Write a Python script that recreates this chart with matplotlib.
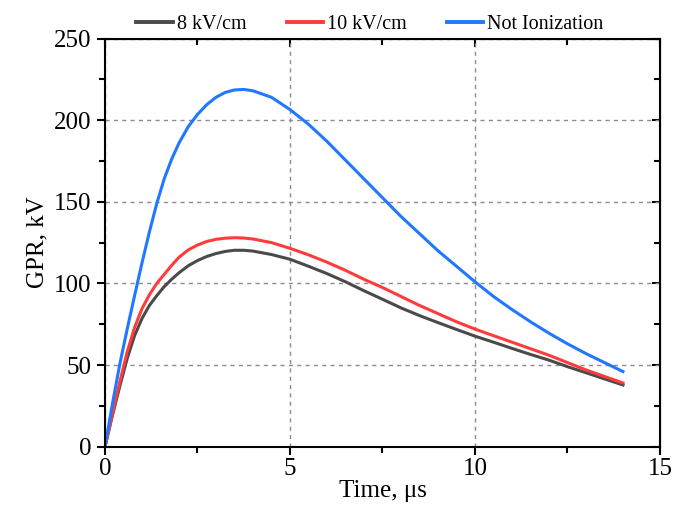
import matplotlib
matplotlib.use("Agg")
import matplotlib.pyplot as plt
from matplotlib.ticker import MultipleLocator

plt.rcParams['font.family'] = ['Liberation Serif', 'DejaVu Serif']

# time in microseconds, GPR in kV
time_us = [0, 0.2, 0.4, 0.6, 0.8, 1.0, 1.2, 1.4, 1.6, 1.8, 2.0, 2.25, 2.5,
           2.75, 3.0, 3.25, 3.5, 3.75, 4.0, 4.5, 5.0, 5.5, 6.0, 6.5, 7.0,
           7.5, 8.0, 8.5, 9.0, 9.5, 10.0, 10.5, 11.0, 11.5, 12.0, 12.5,
           13.0, 13.5, 14.0]
gpr_8 = [0, 19, 37, 54, 68, 78.5, 86.5, 92.5, 98, 102.5, 106.5, 110.8, 114,
         116.5, 118.3, 119.6, 120.3, 120.3, 119.8, 117.7, 114.8, 110.5, 106,
         101, 95.5, 90.3, 85, 80.3, 76, 71.8, 67.7, 64, 60.2, 56.5, 53, 49,
         45.3, 41.5, 37.8]
gpr_10 = [0, 20, 39.5, 58, 73, 84.5, 93, 100, 105.5, 111, 116, 120.5,
          123.5, 125.7, 127, 127.7, 128, 127.8, 127.2, 125, 121.5, 117.5,
          113, 108, 102.5, 97.5, 92, 86.5, 81.5, 76.5, 72, 68, 64, 60, 56,
          51.5, 47, 43, 39]
gpr_none = [0, 26, 50.5, 72, 92.5, 112.5, 131.5, 149, 164, 176, 186, 196,
            203.5, 209.5, 214, 217, 218.5, 218.8, 218, 214, 206.5, 197.5,
            187, 175.5, 164, 152.5, 141, 130.5, 120, 110.5, 101, 92, 84,
            76.5, 69.5, 63, 57, 51.5, 46]

labels = ["8 kV/cm", "10 kV/cm", "Not Ionization"]
colors = ["#4a4a4a", "#ff3b3b", "#1f78ff"]

fig = plt.figure(figsize=(6.76, 5.07), dpi=100)
ax = fig.add_axes([0.1553, 0.119, 0.8210, 0.805])

for y, lab, c in zip([gpr_8, gpr_10, gpr_none], labels, colors):
    ax.plot(time_us, y, color=c, lw=2.2, label=lab)

ax.set_xlim(0, 15)
ax.set_ylim(0, 250)
ax.xaxis.set_major_locator(MultipleLocator(5))
ax.xaxis.set_minor_locator(MultipleLocator(2.5))
ax.yaxis.set_major_locator(MultipleLocator(50))
ax.yaxis.set_minor_locator(MultipleLocator(25))

ax.grid(True, which='major', color='#8c8c8c', linestyle=(0, (3, 3)), lw=1)

for s in ax.spines.values():
    s.set_linewidth(1.5)

ax.tick_params(which='both', direction='out', width=1.5, labelsize=18,
               top=False, right=False)
ax.tick_params(which='major', length=6)
ax.tick_params(which='minor', length=4)
ax.tick_params(axis='x', pad=2)

# inward ticks on the top and right edges
ax2 = ax.secondary_xaxis('top')
ax2.xaxis.set_major_locator(MultipleLocator(5))
ax2.xaxis.set_minor_locator(MultipleLocator(2.5))
ax2.tick_params(which='both', direction='in', width=1.5, labeltop=False)
ax2.tick_params(which='major', length=6)
ax2.tick_params(which='minor', length=4)
ax3 = ax.secondary_yaxis('right')
ax3.yaxis.set_major_locator(MultipleLocator(50))
ax3.yaxis.set_minor_locator(MultipleLocator(25))
ax3.tick_params(which='both', direction='in', width=1.5, labelright=False)
ax3.tick_params(which='major', length=6)
ax3.tick_params(which='minor', length=4)

ax.set_xlabel("Time, μs", fontsize=18, labelpad=0)
ax.set_ylabel("GPR, kV", fontsize=18, labelpad=4)

leg = fig.legend(loc='center', bbox_to_anchor=(370 / 676, 1 - 24 / 507),
                 ncol=3, frameon=False, fontsize=14.5, handlelength=1.8,
                 handletextpad=0.2, columnspacing=2.0)
for h in leg.get_lines():
    h.set_linewidth(2.8)

fig.savefig("out.png", dpi=100)
